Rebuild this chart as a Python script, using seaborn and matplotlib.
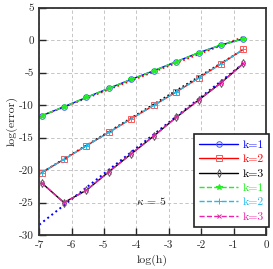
import numpy as np
import matplotlib
matplotlib.use("Agg")
import matplotlib.pyplot as plt
import seaborn as sns

# log(h) for h = 2^-10 ... 2^-1
log_h = [-6.931, -6.238, -5.545, -4.852, -4.159, -3.466, -2.773, -2.079, -1.386, -0.693]

# solid lines with markers
err_k1 = [-11.65, -10.26, -8.82, -7.43, -6.05, -4.72, -3.34, -1.95, -0.77, 0.20]
err_k2 = [-20.40, -18.35, -16.26, -14.20, -12.10, -10.05, -8.00, -5.85, -3.65, -1.43]
err_k3 = [-21.95, -25.00, -23.10, -20.26, -17.50, -14.77, -11.90, -9.23, -6.57, -3.60]

# dashed lines (second method)
err2_k1 = [-11.65, -10.25, -8.82, -7.43, -6.05, -4.72, -3.34, -1.95, -0.77, 0.20]
err2_k2 = [-20.40, -18.35, -16.26, -14.20, -12.10, -10.05, -8.00, -5.85, -3.65, -1.43]
err2_k3 = [-21.95, -25.00, -23.10, -20.26, -17.50, -14.77, -11.90, -9.23, -6.57, -3.60]

# dotted reference slopes (endpoints)
ref_x = [-7.0, -0.693]
ref_k1 = [-11.8, 0.5]
ref_k2 = [-20.6, -1.45]
ref_k3 = [-28.4, -3.6]

sns.set_style("white")
plt.rcParams["font.family"] = ["cmr10", "DejaVu Serif"]
plt.rcParams["mathtext.fontset"] = "cm"
plt.rcParams["axes.unicode_minus"] = False
plt.rcParams["axes.formatter.use_mathtext"] = False

fig = plt.figure(figsize=(2.73, 2.69), dpi=100)
ax = fig.add_axes([0.144, 0.126, 0.830, 0.846])

sns.lineplot(x=ref_x, y=ref_k1, ax=ax, color="red", linestyle=":", lw=1.2, sort=False)
sns.lineplot(x=ref_x, y=ref_k2, ax=ax, color="black", linestyle=":", lw=1.2, sort=False)
sns.lineplot(x=ref_x, y=ref_k3, ax=ax, color="blue", linestyle=":", lw=1.4, sort=False)

sns.lineplot(x=log_h, y=err_k1, ax=ax, color="blue", marker="o", ms=4, mfc="none",
             mec="#4455ff", mew=0.7, lw=1, sort=False, label="k=1")
sns.lineplot(x=log_h, y=err_k2, ax=ax, color="red", marker="s", ms=4, mfc="none",
             mec="#ff5555", mew=0.7, lw=1, sort=False, label="k=2")
sns.lineplot(x=log_h, y=err_k3, ax=ax, color="black", marker="d", ms=4, mfc="none",
             mec="#555555", mew=0.7, lw=1, sort=False, label="k=3")
sns.lineplot(x=log_h, y=err2_k1, ax=ax, color="#22ee22", marker="*", ms=4,
             mec="#22ee22", lw=1, linestyle="--", sort=False, label="k=1")
sns.lineplot(x=log_h, y=err2_k2, ax=ax, color="#22bbee", marker="+", ms=4,
             mec="#22bbee", mew=0.7, lw=1, linestyle="--", sort=False, label="k=2")
sns.lineplot(x=log_h, y=err2_k3, ax=ax, color="#ee22aa", marker="x", ms=3.5,
             mec="#ee22aa", mew=0.7, lw=1, linestyle="--", sort=False, label="k=3")

ax.set_xlim(-7, 0)
ax.set_ylim(-30, 5)
ax.set_xticks(range(-7, 1))
ax.set_yticks(range(-30, 6, 5))
ax.grid(True, color="#bbbbbb", linestyle=(0, (4, 3)), lw=0.6)
for s in ax.spines.values():
    s.set_color("#333333")
    s.set_linewidth(1.3)
ax.tick_params(axis="both", direction="in", length=5, width=1, labelsize=8, pad=4,
               top=False, right=False, left=True, bottom=True)
ax.set_xlabel("log(h)", fontsize=8.5, labelpad=3)
ax.set_ylabel("log(error)", fontsize=8.5, labelpad=1)
ax.text(-3.52, -24.7, r"$\kappa$ = 5", fontsize=8.5, ha="center", va="center")

leg = ax.legend(loc="upper left", bbox_to_anchor=(0.682, 0.443), borderaxespad=0,
                fontsize=8.5, handlelength=3.3, handletextpad=0.4, labelspacing=0.35,
                borderpad=0.45, fancybox=False, framealpha=1, edgecolor="#222222")
leg.get_frame().set_linewidth(1.2)
for txt, ln in zip(leg.get_texts(), leg.get_lines()):
    txt.set_color(ln.get_color())

fig.savefig("out.png", dpi=100)
